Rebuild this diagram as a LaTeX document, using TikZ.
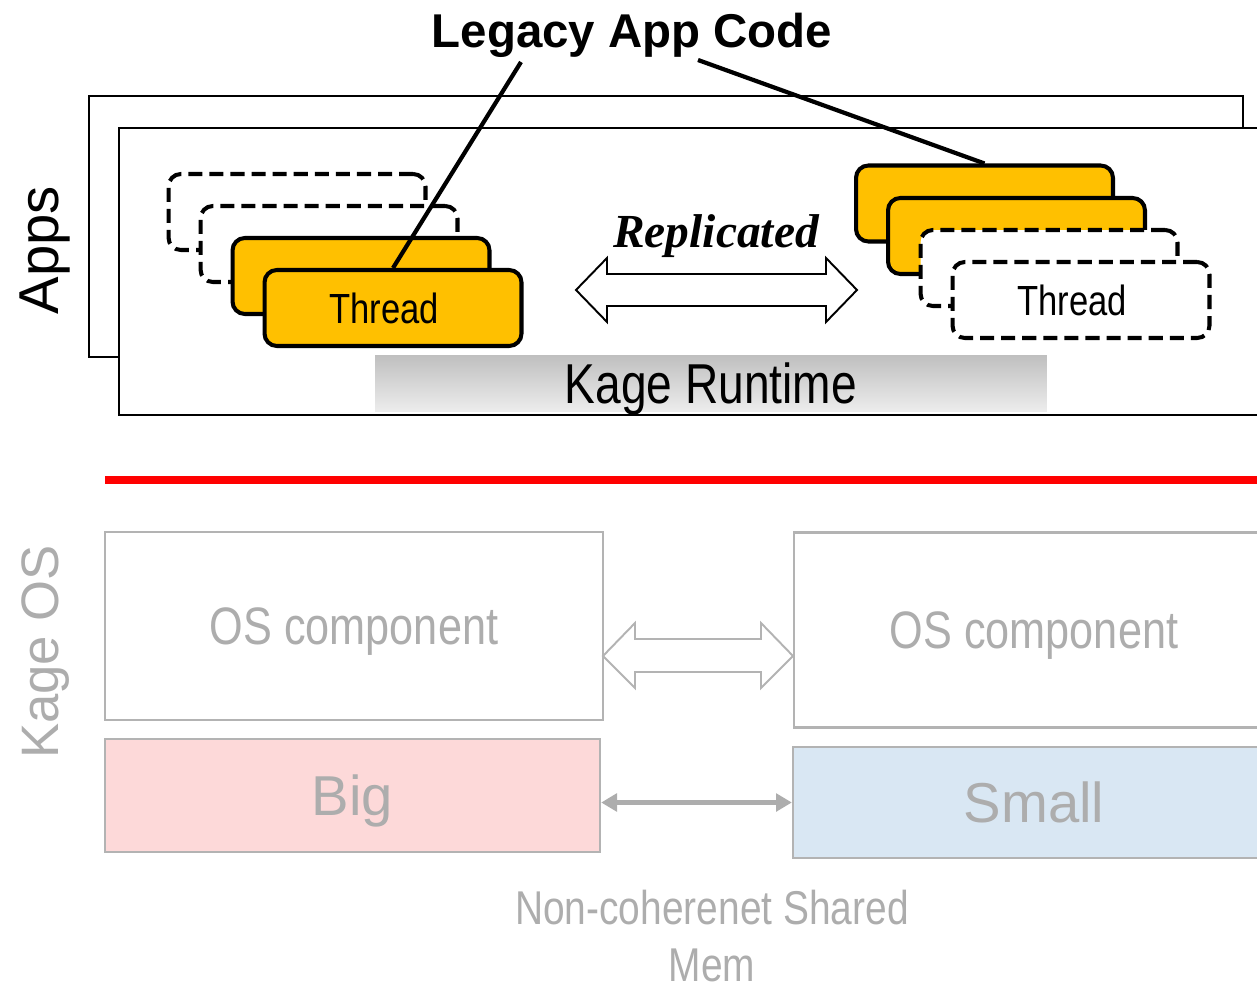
\documentclass[tikz,border=0pt]{standalone}
\usepackage{fontspec}
\setmainfont{Liberation Sans}
\newfontfamily\narrowfont[FakeStretch=0.82]{Liberation Sans}
\newfontfamily\timesfont{Liberation Serif}
\usetikzlibrary{arrows.meta,calc}
\definecolor{kYel}{HTML}{FFC000}
\definecolor{kGray}{HTML}{ADADAD}
\definecolor{kLine}{HTML}{B3B3B3}
\definecolor{kPink}{HTML}{FDD9D9}
\definecolor{kBlue}{HTML}{D9E7F3}
\definecolor{kRed}{HTML}{FF0000}
\tikzset{
  appbox/.style = {draw=black, fill=white, line width=1.2pt, inner sep=0pt},
  thr/.style    = {rounded corners=7pt, draw=black, fill=kYel, line width=2.3pt,
                   minimum width=5.14cm, minimum height=1.52cm, inner sep=0pt, text depth=0pt,
                   font=\narrowfont\fontsize{24}{28}\selectfont},
  ghost/.style  = {thr, fill=white, dash pattern=on 8pt off 4pt},
  osbox/.style  = {draw=kLine, line width=1.4pt, inner sep=0pt, text=kGray, text depth=0pt},
  hollow/.style = {line width=1.1pt, fill=white},
  lead/.style   = {line width=2.4pt},
  gar/.style    = {{Triangle[length=9pt,width=10pt]}-{Triangle[length=9pt,width=10pt]},
                   draw=kGray, line width=2.6pt},
}

\begin{document}
\begin{tikzpicture}[x=0.02cm, y=-0.02cm]
  \useasboundingbox (0,0) rectangle (1257,989);
  \clip (0,0) rectangle (1257,989);

  % apps layer
  \node[font=\fontsize{32}{36}\selectfont, rotate=90] (apps) at (45,250) {Apps};
  \node[appbox, minimum width=23.08cm, minimum height=5.22cm] (back) at (666,226.5) {};
  \node[appbox, minimum width=23.12cm, minimum height=5.74cm] (front) at (697,271.5) {};
  \node[top color=black!25, bottom color=black!7, minimum width=13.44cm, minimum height=1.14cm,
        inner sep=0pt, text depth=0pt, font=\narrowfont\fontsize{32}{36}\selectfont] (rt) at (711,383.5) {Kage Runtime};

  \node[ghost] (lt1) at (297,212) {};
  \node[ghost] (lt2) at (329,244) {};
  \node[thr]   (lt3) at (361,276) {};
  \node[thr]   (lt4) at (393,308) {\hspace*{-0.35cm}Thread};

  \node[thr]   (rt1) at (984.5,203.5) {};
  \node[thr]   (rt2) at (1016.5,236) {};
  \node[ghost] (rt3) at (1049,268) {};
  \node[ghost] (rt4) at (1081,300) {\hspace*{-0.35cm}Thread};

  \node[font=\timesfont\bfseries\itshape\fontsize{27}{30}\selectfont, anchor=base] (rep) at (716,248) {Replicated};
  \draw[hollow] (576,290) -- (607,258) -- (607,274) -- (826,274) -- (826,258) -- (857,290)
                -- (826,322) -- (826,306) -- (607,306) -- (607,322) -- cycle;

  \node[font=\bfseries\fontsize{27}{30}\selectfont, anchor=base] (legacy) at (632,48) {Legacy App Code};
  \coordinate (lg1) at (521,62);
  \coordinate (lg2) at (698,60);
  \draw[lead] (lg1) -- (lt4.north);
  \draw[lead] (lg2) -- (rt1.north);

  % separator
  \draw[kRed, line width=4pt] (105,480) -- (1262,480);

  % os layer
  \node[text=kGray, font=\fontsize{30}{34}\selectfont, rotate=90] (kos) at (46,652) {Kage OS};
  \node[osbox, fill=white, minimum width=9.96cm, minimum height=3.76cm,
        font=\narrowfont\fontsize{30}{34}\selectfont] (osl) at (354,626) {OS component};
  \node[osbox, fill=white, minimum width=9.6cm, minimum height=3.9cm,
        font=\narrowfont\fontsize{30}{34}\selectfont] (osr) at (1034,630) {OS component};
  \draw[hollow, draw=kLine] (603,656) -- (635,623) -- (635,639) -- (761,639) -- (761,623) -- (793,656)
                -- (761,688) -- (761,672) -- (635,672) -- (635,688) -- cycle;

  \node[osbox, fill=kPink, minimum width=9.9cm, minimum height=2.26cm,
        font=\fontsize{32}{36}\selectfont] (big) at (352.5,795.5) {Big};
  \node[osbox, fill=kBlue, minimum width=9.64cm, minimum height=2.22cm,
        font=\fontsize{32}{36}\selectfont] (small) at (1034,802.5) {Small};
  \draw[gar] (big.east |- small.west) -- (small.west);

  \node[text=kGray, align=center, inner sep=0pt, font=\narrowfont\fontsize{27}{32}\selectfont] (mem) at (712,936)
       {Non-coherenet Shared\\ Mem};
\end{tikzpicture}
\end{document}
